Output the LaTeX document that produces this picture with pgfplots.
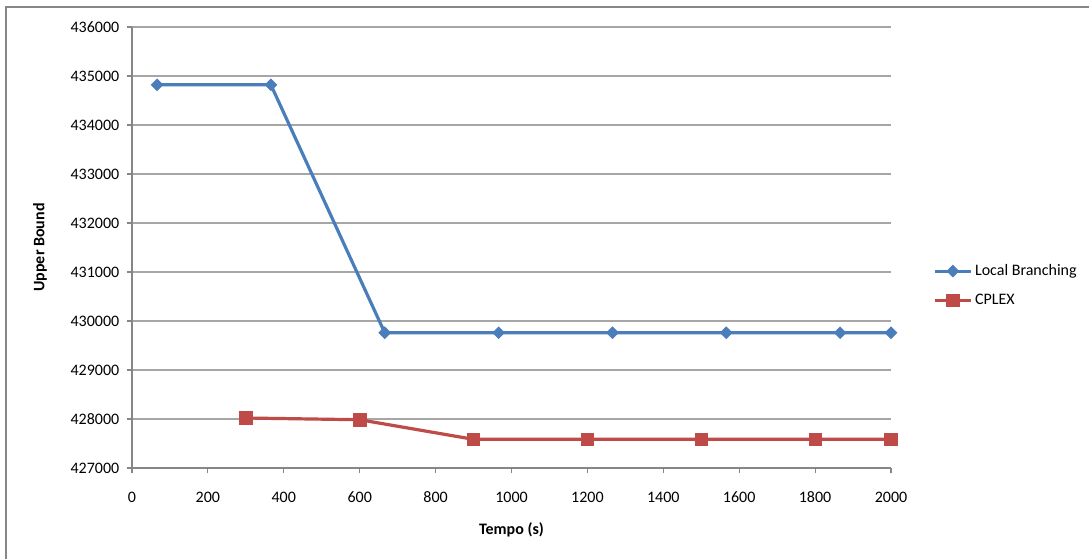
\documentclass[border=0pt]{standalone}
\usepackage{fontspec}
\setmainfont{Carlito}
\usepackage{pgfplots}
\pgfplotsset{compat=1.18}

\definecolor{lbblue}{HTML}{4A7EBB}
\definecolor{cpxred}{HTML}{BE4B48}
\definecolor{axgray}{HTML}{868686}
\definecolor{gridgray}{HTML}{A6A6A6}

\begin{document}
\begin{tikzpicture}[font=\fontsize{12pt}{14pt}\selectfont]
\begin{axis}[
  at={(0,0)}, anchor=south west,
  scale only axis,
  width=569.25pt, height=330.75pt,
  xmin=0, xmax=2000, ymin=427000, ymax=436000,
  xtick={0,200,...,2000},
  ytick={427000,428000,...,436000},
  axis x line*=bottom, axis y line*=left,
  axis line style={draw=axgray, line width=1.1pt, -},
  tick align=outside,
  major tick length=4pt,
  tick style={draw=axgray, line width=0.9pt},
  ymajorgrids,
  grid style={draw=gridgray, line width=0.9pt},
  /pgf/number format/assume math mode=true,
  scaled y ticks=false,
  yticklabel={\pgfmathprintnumber[fixed, 1000 sep={}]{\tick}},
  xticklabel={\pgfmathprintnumber[fixed, 1000 sep={}]{\tick}},
  xticklabel style={yshift=-10.5pt},
  yticklabel style={xshift=-2pt},
  xlabel={\textbf{Tempo (s)}},
  ylabel={\textbf{Upper Bound}},
  xlabel style={at={(axis description cs:0.5,-0.1406)}, anchor=center},
  ylabel style={at={(axis description cs:-0.1212,0.5)}, anchor=center},
  legend style={at={(axis description cs:1.050,0.474)}, anchor=north west,
    draw=none, fill=none, row sep=8.5pt,
    font=\fontsize{12pt}{14pt}\selectfont},
  legend cell align=left,
  legend image code/.code={
    \draw[#1] (0pt,0pt) -- (27pt,0pt);
    \path[#1, /tikz/solid] plot coordinates {(13.5pt,0pt)};
  },
]
\addplot[color=lbblue, line width=2.4pt, mark=square*,
  mark size=3.1pt, mark options={rotate=45, line width=0.5pt}]
  coordinates {
    (66,434820) (366,434820) (666,429760) (966,429760)
    (1266,429760) (1566,429760) (1866,429760) (2000,429760)
  };
\addlegendentry{Local Branching}
\addplot[color=cpxred, line width=2.4pt, mark=square*,
  mark size=4.7pt, mark options={line width=0.5pt}]
  coordinates {
    (300,428020) (600,427985) (900,427585) (1200,427585)
    (1500,427585) (1800,427585) (2000,427585)
  };
\addlegendentry{CPLEX}
\end{axis}
% outer chart frame, running off the page to the right and bottom
\draw[axgray, line width=1.3pt] (-94.5pt,-80pt) -- (-94.5pt,345.75pt) -- (730pt,345.75pt);
\pgfresetboundingbox
\path[use as bounding box] (-99pt,-68.25pt) rectangle (717.75pt,351pt);
\end{tikzpicture}
\end{document}
